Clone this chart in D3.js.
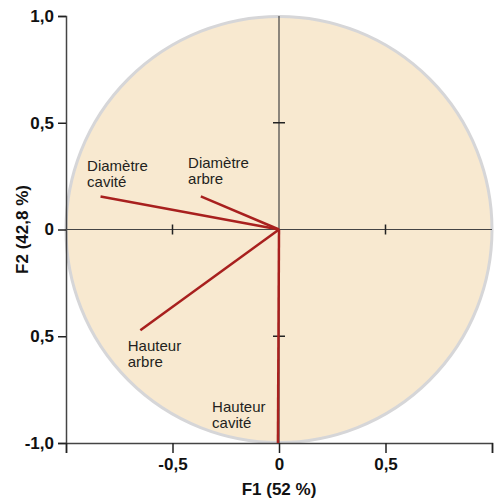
<!DOCTYPE html>
<html>
<head>
<meta charset="utf-8">
<script src="https://cdn.jsdelivr.net/npm/d3@7"></script>
<style>
  body { margin: 0; background: #fff; }
  svg text { font-family: "Liberation Sans", "DejaVu Sans", sans-serif; }
</style>
</head>
<body>
<div id="chart"></div>
<script>
var width = 494;
var height = 501;

// variables (cercle des corrélations)
var varNames  = [["Diamètre", "cavité"], ["Diamètre", "arbre"], ["Hauteur", "arbre"], ["Hauteur", "cavité"]];
var varF1     = [-0.838, -0.367, -0.651, -0.005];
var varF2     = [ 0.155,  0.155, -0.472, -1.0];
// label anchor (data units), left edge / first baseline
var labelF1   = [-0.901, -0.427, -0.710, -0.314];
var labelF2   = [ 0.272,  0.286, -0.567, -0.854];

var yTicks      = [1, 0.5, 0, -0.5, -1];
var yTickLabels = ["1,0", "0,5", "0", "0,5", "-1,0"];
var xTicks      = [-0.5, 0, 0.5];
var xTickLabels = ["-0,5", "0", "0,5"];
var innerTicks  = [-0.5, 0.5];

var x = d3.scaleLinear().domain([-1, 1]).range([66, 492]);
var y = d3.scaleLinear().domain([-1, 1]).range([443, 16]);

var svg = d3.select("#chart").append("svg")
  .attr("width", width)
  .attr("height", height);

// circle
svg.append("circle")
  .attr("cx", x(0))
  .attr("cy", y(0))
  .attr("r", x(1) - x(0))
  .style("fill", "#f8e9d0")
  .style("stroke", "#d6d6d8")
  .style("stroke-width", 3);

var axisColor = "#444";

// crosshair through origin
svg.append("line")
  .attr("x1", x(0)).attr("x2", x(0))
  .attr("y1", y(1)).attr("y2", y(-1))
  .style("stroke", axisColor).style("stroke-width", 1.2);
svg.append("line")
  .attr("x1", x(-1)).attr("x2", x(1))
  .attr("y1", y(0)).attr("y2", y(0))
  .style("stroke", axisColor).style("stroke-width", 1.2);

// small ticks on the crosshair
innerTicks.forEach(function(t){
  svg.append("line")
    .attr("x1", x(t)).attr("x2", x(t))
    .attr("y1", y(0) - 5).attr("y2", y(0) + 5)
    .style("stroke", "#222").style("stroke-width", 1.5);
  svg.append("line")
    .attr("x1", x(0) - 6).attr("x2", x(0) + 6)
    .attr("y1", y(t)).attr("y2", y(t))
    .style("stroke", "#222").style("stroke-width", 1.5);
});

// left axis
var yAxis = d3.axisLeft(y)
  .tickValues(yTicks)
  .tickSize(8)
  .tickPadding(4)
  .tickFormat(function(d, i){ return yTickLabels[i]; });
var gy = svg.append("g")
  .attr("transform", "translate(" + x(-1) + ",0)")
  .call(yAxis);

// bottom axis
var xAxis = d3.axisBottom(x)
  .tickValues([-1].concat(xTicks).concat([1]))
  .tickSize(10)
  .tickPadding(5)
  .tickFormat(function(d){
    var i = xTicks.indexOf(d);
    return i < 0 ? "" : xTickLabels[i];
  });
var gx = svg.append("g")
  .attr("transform", "translate(0," + y(-1) + ")")
  .call(xAxis);

[gx, gy].forEach(function(g){
  g.select(".domain").style("stroke", axisColor).style("stroke-width", 1.5);
  g.selectAll(".tick line").style("stroke", "#222").style("stroke-width", 1.5);
  g.selectAll(".tick text")
    .style("font-size", "17px")
    .style("font-weight", "bold")
    .style("fill", "#111");
});

// vectors
svg.selectAll("line.vec")
  .data(varF1)
  .enter().append("line")
  .attr("class", "vec")
  .attr("x1", x(0)).attr("y1", y(0))
  .attr("x2", function(d){ return x(d); })
  .attr("y2", function(d, i){ return y(varF2[i]); })
  .style("stroke", "#a8201e")
  .style("stroke-width", 2.5);

// variable labels, one text per line
varNames.forEach(function(lines, i){
  lines.forEach(function(s, k){
    svg.append("text")
      .attr("x", x(labelF1[i]))
      .attr("y", y(labelF2[i]) + k * 16)
      .style("font-size", "15px")
      .style("fill", "#231f20")
      .text(s);
  });
});

// axis titles
svg.append("text")
  .attr("x", x(0))
  .attr("y", 495)
  .attr("text-anchor", "middle")
  .style("font-size", "17px")
  .style("font-weight", "bold")
  .style("fill", "#111")
  .text("F1 (52 %)");

svg.append("text")
  .attr("transform", "translate(28," + y(0) + ") rotate(-90)")
  .attr("text-anchor", "middle")
  .style("font-size", "17px")
  .style("font-weight", "bold")
  .style("fill", "#111")
  .text("F2 (42,8 %)");
</script>
</body>
</html>
